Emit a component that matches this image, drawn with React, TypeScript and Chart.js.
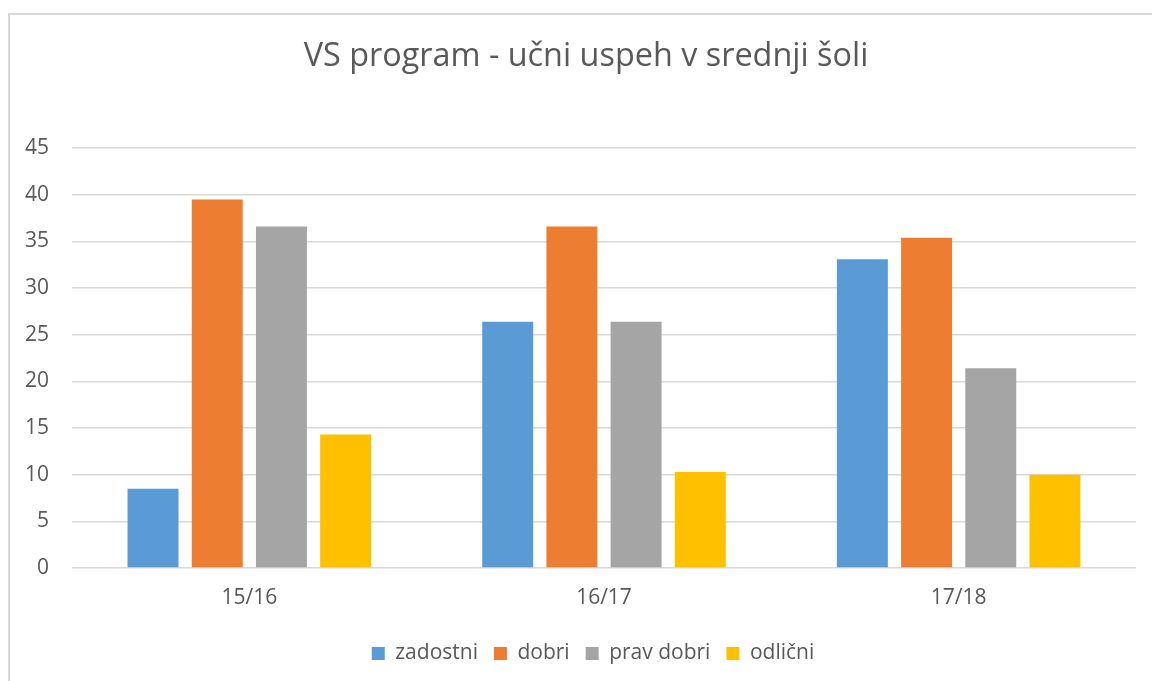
import React, { useEffect, useRef } from "react";
import { Chart, registerables } from "chart.js";

Chart.register(...registerables);

const categories = ["15/16", "16/17", "17/18"];
const zadostni = [8.5, 26.4, 33.1];
const dobri = [39.5, 36.6, 35.4];
const pravDobri = [36.6, 26.4, 21.4];
const odlicni = [14.3, 10.3, 10.0];
const seriesNames = ["zadostni", "dobri", "prav dobri", "odlični"];
const yTicks = [0, 5, 10, 15, 20, 25, 30, 35, 40, 45];

const COLORS = ["#5B9BD5", "#ED7D31", "#A5A5A5", "#FFC000"];
const TEXT = "#595959";
const FONT = "'Open Sans', sans-serif";

const shiftBoxes = {
  id: "shiftBoxes",
  afterLayout(chart: any) {
    if (chart.titleBlock) {
      chart.titleBlock.left += 18;
      chart.titleBlock.right += 18;
    }
    if (chart.legend) {
      chart.legend.left += 25;
      chart.legend.right += 25;
    }
  },
};

export default function App() {
  const ref = useRef<HTMLCanvasElement | null>(null);

  useEffect(() => {
    if (!ref.current) return;
    const values = [zadostni, dobri, pravDobri, odlicni];
    const chart = new Chart(ref.current, {
      type: "bar",
      data: {
        labels: categories,
        datasets: values.map((v, i) => ({
          label: seriesNames[i],
          data: v,
          backgroundColor: COLORS[i],
          borderWidth: 0,
          categoryPercentage: 0.724,
          barPercentage: 0.794,
        })),
      },
      options: {
        animation: false,
        responsive: false,
        maintainAspectRatio: false,
        layout: { padding: { left: 0, right: 16, top: 0, bottom: 7 } },
        plugins: {
          title: {
            display: true,
            text: "VS program - učni uspeh v srednji šoli",
            color: TEXT,
            font: { family: FONT, size: 32.4, weight: "normal" },
            padding: { top: 37, bottom: 72.2 },
          },
          legend: {
            position: "bottom",
            labels: {
              color: TEXT,
              font: { family: FONT, size: 21 },
              boxWidth: 13,
              boxHeight: 13,
              padding: 16,
            },
          },
          tooltip: { enabled: false },
        },
        scales: {
          x: {
            grid: { display: false, drawTicks: false },
            border: { display: false },
            ticks: {
              color: TEXT,
              font: { family: FONT, size: 21 },
              padding: 17,
            },
            afterFit: (s: any) => {
              s.height = 59;
            },
          },
          y: {
            min: 0,
            max: 45,
            afterBuildTicks: (s: any) => {
              s.ticks = yTicks.map((v) => ({ value: v }));
            },
            grid: { color: "#d9d9d9", lineWidth: 1.5, drawTicks: false },
            border: { display: false },
            ticks: {
              color: TEXT,
              font: { family: FONT, size: 21 },
              padding: 23,
            },
            afterFit: (s: any) => {
              s.width = 72;
            },
          },
        },
      },
      plugins: [shiftBoxes],
    });
    return () => chart.destroy();
  }, []);

  return (
    <div
      style={{
        position: "fixed",
        left: 0,
        top: 0,
        width: 1152,
        height: 681,
        background: "#fff",
        overflow: "hidden",
      }}
    >
      <div
        style={{
          position: "absolute",
          left: 8,
          top: 13,
          width: 1170,
          height: 700,
          border: "2px solid #d9d9d9",
          boxSizing: "border-box",
        }}
      />
      <canvas
        ref={ref}
        width={1152}
        height={681}
        style={{ position: "absolute", left: 0, top: 0, width: 1152, height: 681 }}
      />
    </div>
  );
}
